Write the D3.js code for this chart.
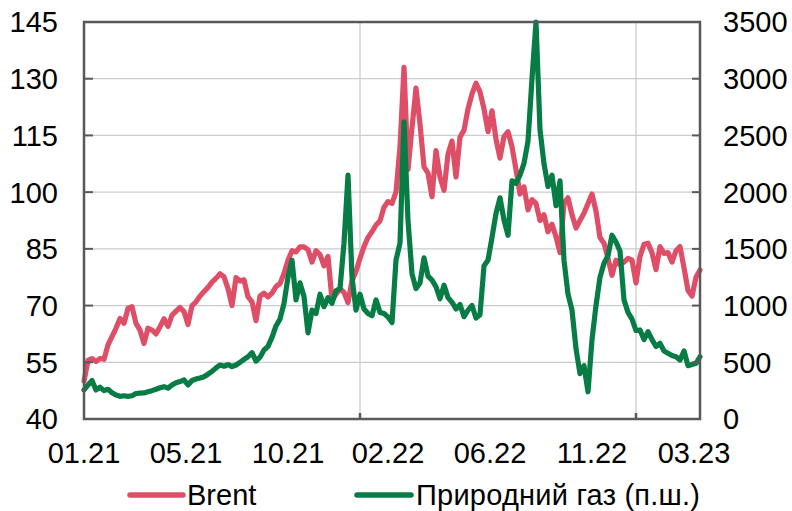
<!DOCTYPE html>
<html>
<head>
<meta charset="utf-8">
<script src="https://cdn.jsdelivr.net/npm/d3@7/dist/d3.min.js"></script>
<style>
  html, body { margin: 0; padding: 0; background: #fff; }
  svg text { font-family: "Liberation Sans", Arial, sans-serif; fill: #000; }
</style>
</head>
<body>
<svg id="chart" width="792" height="511"></svg>
<script>
// Brent, USD/bbl (left axis), sampled every ~4 trading days, 01.2021 – 03.2023
const brent = [
  50, 55.5, 56, 55.2, 56, 55.8, 59.6, 61.8, 64, 66.6,
  65.3, 69.3, 69.7, 65.3, 63.5, 60, 64, 63.5, 62.5, 64.4,
  66.5, 64.5, 67.5, 68.5, 69.5, 68.4, 65, 70, 71, 72.5,
  73.7, 74.8, 76.2, 77.2, 78.4, 77.6, 74.5, 70, 77.4, 76.5,
  76.8, 72.3, 71, 66, 72.5, 73.3, 72.3, 73.3, 75, 75.8,
  78.5, 82, 84.5, 84.2, 85.5, 85.5, 84.8, 81.5, 84.5, 83.5,
  80.5, 83, 71.5, 73, 74.5, 73.5, 70.8, 76.5, 79, 82.5,
  85.6, 88, 89.5, 91.3, 92.4, 96, 97.5, 97, 100, 112,
  133, 106, 117, 127.5, 118, 106.7, 105, 98.8, 111, 104,
  100.5, 110, 113.5, 104, 114.5, 116.4, 122, 126, 128.8, 126.5,
  122, 116, 121.5, 114, 109, 114.7, 116, 112, 106, 99.5,
  101.4, 95.3, 98, 97, 92.5, 94, 89.5, 91.5, 88.2, 84,
  97, 98.5, 94, 90.5, 92.5, 94.4, 97, 99.5, 95, 88,
  86.5, 82.5, 78, 82, 80.8, 81.5, 82.5, 82, 76, 83,
  86.2, 86.5, 84, 79.5, 85.6, 83.8, 84, 81.5, 84.5, 85.6,
  80, 74, 72.5, 77.5, 79.4
];

// Natural gas, USD/1000 m3 (right axis), same sampling
const gas = [
  256, 300, 340, 256, 280, 250, 262, 232, 212, 200,
  205, 200, 205, 225, 228, 230, 240, 250, 262, 275,
  285, 272, 300, 320, 330, 344, 300, 340, 352, 362,
  373, 395, 420, 450, 476, 465, 480, 462, 476, 500,
  525, 549, 585, 510, 545, 608, 640, 720, 820, 880,
  1020, 1250, 1400, 1050, 1200, 1080, 760, 960, 930, 1100,
  990, 1070, 1020, 1130, 1150, 1550, 2150, 1250, 960, 1100,
  970, 930, 910, 1050, 940, 930, 900, 850, 1400, 1550,
  2620, 1750, 1280, 1150, 1200, 1420, 1260, 1225, 1166, 1060,
  1180, 1070, 1030, 970, 1010, 902, 960, 1000, 890, 920,
  1350, 1400, 1600, 1813, 1950, 1754, 1620, 2100, 2078, 2150,
  2254, 2450, 3000, 3500, 2550, 2250, 2050, 2150, 1880, 2100,
  1400, 1100, 960, 620, 400, 470, 240, 700, 1000, 1250,
  1373, 1440, 1620, 1560, 1480, 1050, 940, 880, 780, 785,
  700, 770, 700, 640, 667, 600, 580, 560, 549, 520,
  600, 470, 480, 491, 549
];

// Month labels and the sample index each one sits at
const monthLabels = ["01.21", "05.21", "10.21", "02.22", "06.22", "11.22", "03.23"];
const monthAt     = [0, 25.5, 51, 76, 101.5, 127, 152.5];

// Sample indices of the vertical gridlines / bottom tick marks
const gridAt = [69, 138];

const leftTicks  = [40, 55, 70, 85, 100, 115, 130, 145];
const rightTicks = [0, 500, 1000, 1500, 2000, 2500, 3000, 3500];

const seriesNames = ["Brent", "Природний газ (п.ш.)"];
const colors = { brent: "#de4e67", gas: "#077c45" };

const svg = d3.select("#chart");
const plot = { left: 84, right: 700, top: 22, bottom: 419 };

const x  = d3.scaleLinear().domain([0, brent.length - 1]).range([plot.left, plot.right]);
const yL = d3.scaleLinear().domain([40, 145]).range([plot.bottom, plot.top]);
const yR = d3.scaleLinear().domain([0, 3500]).range([plot.bottom, plot.top]);

const gridColor = "#c9cccf";
const axisColor = "#595959";
const fontSize = 29;
const lineWidth = 5.2;

// horizontal gridlines
svg.append("g").selectAll("line")
  .data(leftTicks.slice(1, -1))
  .join("line")
  .attr("x1", plot.left).attr("x2", plot.right)
  .attr("y1", d => yL(d)).attr("y2", d => yL(d))
  .attr("stroke", gridColor).attr("stroke-width", 1.3);

// vertical gridlines
svg.append("g").selectAll("line")
  .data(gridAt)
  .join("line")
  .attr("x1", d => x(d)).attr("x2", d => x(d))
  .attr("y1", plot.top).attr("y2", plot.bottom)
  .attr("stroke", gridColor).attr("stroke-width", 1.3);

// series
const lineBrent = d3.line().x((d, i) => x(i)).y(d => yL(d));
const lineGas   = d3.line().x((d, i) => x(i)).y(d => yR(d));

svg.append("path").datum(brent)
  .attr("d", lineBrent)
  .attr("fill", "none").attr("stroke", colors.brent)
  .attr("stroke-width", lineWidth).attr("stroke-linejoin", "round").attr("stroke-linecap", "round");

svg.append("path").datum(gas)
  .attr("d", lineGas)
  .attr("fill", "none").attr("stroke", colors.gas)
  .attr("stroke-width", lineWidth).attr("stroke-linejoin", "round").attr("stroke-linecap", "round");

// frame
svg.append("rect")
  .attr("x", plot.left).attr("y", plot.top)
  .attr("width", plot.right - plot.left).attr("height", plot.bottom - plot.top)
  .attr("fill", "none").attr("stroke", axisColor).attr("stroke-width", 2.5);

// inward tick marks
svg.append("g").selectAll("line")
  .data(leftTicks)
  .join("line")
  .attr("x1", plot.left).attr("x2", plot.left + 9)
  .attr("y1", d => yL(d)).attr("y2", d => yL(d))
  .attr("stroke", axisColor).attr("stroke-width", 2);

svg.append("g").selectAll("line")
  .data(rightTicks)
  .join("line")
  .attr("x1", plot.right - 8).attr("x2", plot.right)
  .attr("y1", d => yR(d)).attr("y2", d => yR(d))
  .attr("stroke", axisColor).attr("stroke-width", 2);

svg.append("g").selectAll("line")
  .data(gridAt)
  .join("line")
  .attr("x1", d => x(d)).attr("x2", d => x(d))
  .attr("y1", plot.bottom - 6).attr("y2", plot.bottom)
  .attr("stroke", axisColor).attr("stroke-width", 2.5);

// left axis labels
svg.append("g").selectAll("text")
  .data(leftTicks)
  .join("text")
  .attr("x", 58).attr("y", d => yL(d) + 10.4)
  .attr("text-anchor", "end").attr("font-size", fontSize)
  .text(d => d);

// right axis labels
svg.append("g").selectAll("text")
  .data(rightTicks)
  .join("text")
  .attr("x", 723).attr("y", d => yR(d) + 10.4)
  .attr("text-anchor", "start").attr("font-size", fontSize)
  .text(d => d);

// month labels
svg.append("g").selectAll("text")
  .data(monthLabels)
  .join("text")
  .attr("x", (d, i) => x(monthAt[i])).attr("y", 463)
  .attr("text-anchor", "middle").attr("font-size", fontSize)
  .text(d => d);

// legend
const legend = [
  { name: seriesNames[0], color: colors.brent, x1: 130, x2: 183, tx: 187 },
  { name: seriesNames[1], color: colors.gas,   x1: 357, x2: 411, tx: 416 }
];
const lg = svg.append("g");
lg.selectAll("line").data(legend).join("line")
  .attr("x1", d => d.x1).attr("x2", d => d.x2)
  .attr("y1", 495).attr("y2", 495)
  .attr("stroke", d => d.color).attr("stroke-width", 5.5).attr("stroke-linecap", "round");
lg.selectAll("text").data(legend).join("text")
  .attr("x", d => d.tx).attr("y", 505)
  .attr("font-size", fontSize)
  .attr("textLength", (d, i) => i === 1 ? 284 : null)
  .text(d => d.name);
</script>
</body>
</html>
